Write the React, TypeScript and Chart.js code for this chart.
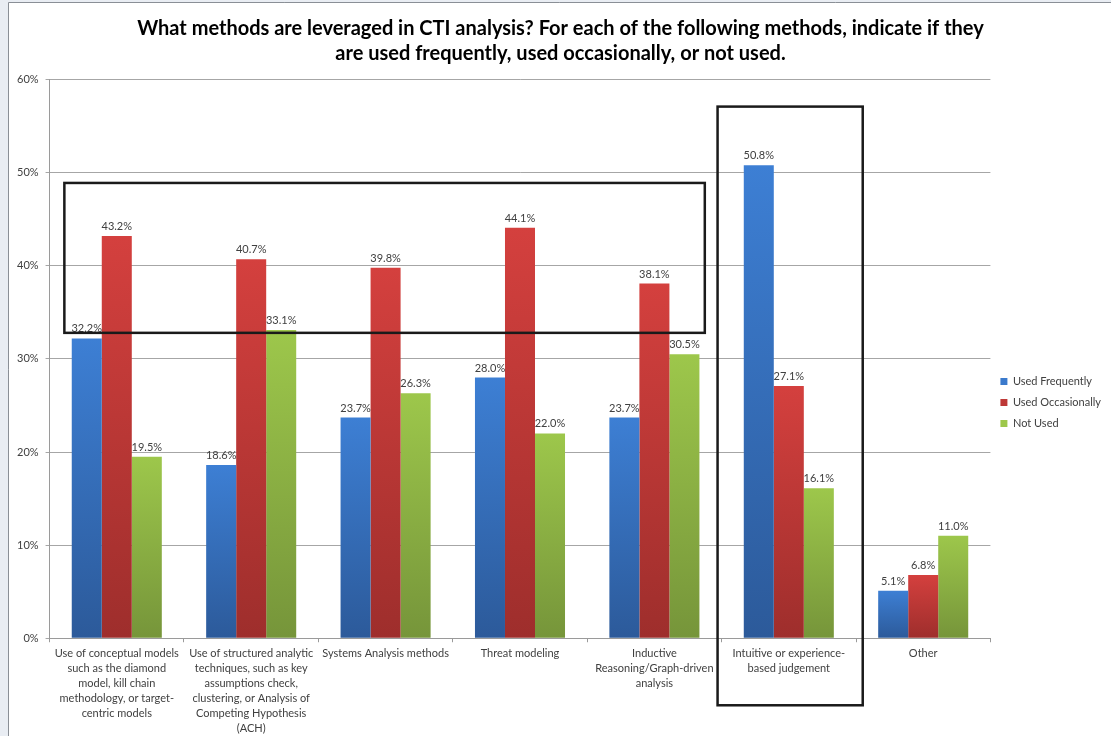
import React, { useEffect, useRef } from "react";
import { Chart, registerables } from "chart.js";

Chart.register(...registerables);

const categories: (string | string[])[] = [
  ["Use of conceptual models", "such as the diamond", "model, kill chain", "methodology, or target-", "centric models"],
  ["Use of structured analytic", "techniques, such as key", "assumptions check,", "clustering, or Analysis of", "Competing Hypothesis", "(ACH)"],
  "Systems Analysis methods",
  "Threat modeling",
  ["Inductive", "Reasoning/Graph-driven", "analysis"],
  ["Intuitive or experience-", "based judgement"],
  "Other",
];

const usedFrequently = [32.2, 18.6, 23.7, 28.0, 23.7, 50.8, 5.1];
const usedOccasionally = [43.2, 40.7, 39.8, 44.1, 38.1, 27.1, 6.8];
const notUsed = [19.5, 33.1, 26.3, 22.0, 30.5, 16.1, 11.0];

const seriesNames = ["Used Frequently", "Used Occasionally", "Not Used"];
const titleLines = [
  "What methods are leveraged in CTI analysis? For each of the following methods, indicate if they",
  "are used frequently, used occasionally, or not used.",
];

const FONT = "Lato, 'Open Sans', sans-serif";

function gradientFill(top: string, bottom: string, solid: string) {
  return (ctx: any) => {
    const chart = ctx.chart;
    const y = chart.scales && chart.scales.y;
    if (!chart.chartArea || !y || ctx.type !== "data") return solid;
    const v = ctx.raw as number;
    const y0 = y.getPixelForValue(v);
    const y1 = y.getPixelForValue(0);
    if (!isFinite(y0) || !isFinite(y1) || y0 === y1) return solid;
    const g = chart.ctx.createLinearGradient(0, y0, 0, y1);
    g.addColorStop(0, top);
    g.addColorStop(1, bottom);
    return g;
  };
}

const framePlugin = {
  id: "frame",
  beforeDraw(chart: any) {
    const { ctx, width, height } = chart;
    ctx.save();
    ctx.fillStyle = "#e9edf3";
    ctx.fillRect(0, 0, width, height);
    ctx.fillStyle = "#ffffff";
    ctx.fillRect(9, 3, width - 9, height - 3);
    ctx.strokeStyle = "#8a8f96";
    ctx.lineWidth = 1;
    ctx.beginPath();
    ctx.moveTo(8.5, height);
    ctx.lineTo(8.5, 2.5);
    ctx.lineTo(width, 2.5);
    ctx.stroke();
    ctx.restore();
  },
};

const labelPlugin = {
  id: "valueLabels",
  afterDatasetsDraw(chart: any) {
    const { ctx } = chart;
    ctx.save();
    ctx.font = `11px ${FONT}`;
    ctx.fillStyle = "#404040";
    ctx.textAlign = "center";
    ctx.textBaseline = "bottom";
    chart.data.datasets.forEach((ds: any, di: number) => {
      const meta = chart.getDatasetMeta(di);
      meta.data.forEach((bar: any, i: number) => {
        ctx.fillText(ds.data[i].toFixed(1) + "%", bar.x, bar.y - 4);
      });
    });
    ctx.restore();
  },
};

const boxPlugin = {
  id: "highlightBoxes",
  afterDraw(chart: any) {
    const { ctx } = chart;
    const x = chart.scales.x;
    const y = chart.scales.y;
    const cw = x.getPixelForValue(1) - x.getPixelForValue(0);
    ctx.save();
    ctx.strokeStyle = "#1a1a1a";
    ctx.lineWidth = 2.5;
    const r1x0 = x.getPixelForValue(0) - 0.39 * cw;
    const r1x1 = x.getPixelForValue(4) + 0.375 * cw;
    const r1y0 = y.getPixelForValue(48.9);
    const r1y1 = y.getPixelForValue(32.8);
    ctx.strokeRect(r1x0, r1y0, r1x1 - r1x0, r1y1 - r1y0);
    const r2x0 = x.getPixelForValue(5) - 0.53 * cw;
    const r2x1 = x.getPixelForValue(5) + 0.55 * cw;
    const r2y0 = y.getPixelForValue(57.1);
    const r2y1 = y.getPixelForValue(-7.2);
    ctx.strokeRect(r2x0, r2y0, r2x1 - r2x0, r2y1 - r2y0);
    ctx.restore();
  },
};

export default function App() {
  const ref = useRef<HTMLCanvasElement | null>(null);
  useEffect(() => {
    if (!ref.current) return;
    const chart = new Chart(ref.current, {
      type: "bar",
      data: {
        labels: categories,
        datasets: [
          {
            label: seriesNames[0],
            data: usedFrequently,
            backgroundColor: gradientFill("#3d7fd4", "#2c5a9a", "#3470bd"),
          },
          {
            label: seriesNames[1],
            data: usedOccasionally,
            backgroundColor: gradientFill("#d4403e", "#9e2e2c", "#c03a38"),
          },
          {
            label: seriesNames[2],
            data: notUsed,
            backgroundColor: gradientFill("#9dc74b", "#76953a", "#8bb044"),
          },
        ] as any,
      },
      options: {
        animation: false,
        responsive: true,
        maintainAspectRatio: false,
        layout: { padding: { left: 10, right: 0, top: 10, bottom: -4 } },
        datasets: {
          bar: { categoryPercentage: 0.67, barPercentage: 1.0, borderWidth: 0 },
        } as any,
        plugins: {
          title: {
            display: true,
            text: titleLines,
            color: "#000000",
            font: { family: FONT, size: 20, weight: "bold", lineHeight: 1.24 },
            padding: { top: 6, bottom: 14 },
          },
          legend: {
            position: "right",
            align: "start",
            title: {
              display: true,
              text: " ",
              font: { family: FONT, size: 10, lineHeight: 1.2 },
              padding: { top: 344, bottom: 0 },
            },
            labels: {
              boxWidth: 7,
              boxHeight: 7,
              padding: 10,
              color: "#404040",
              font: { family: FONT, size: 11 },
            },
          },
          tooltip: { enabled: false },
        },
        scales: {
          x: {
            grid: {
              offset: true,
              drawOnChartArea: false,
              drawTicks: true,
              tickLength: 4,
              color: "#9a9a9a",
            },
            border: { color: "#9a9a9a" },
            ticks: {
              autoSkip: false,
              maxRotation: 0,
              minRotation: 0,
              padding: 4,
              color: "#404040",
              font: { family: FONT, size: 11, lineHeight: 1.36 },
            },
          },
          y: {
            min: 0,
            max: 60,
            grid: { color: "#a6a6a6", tickLength: 4 },
            border: { color: "#9a9a9a" },
            ticks: {
              stepSize: 10,
              padding: 7,
              color: "#404040",
              font: { family: FONT, size: 11 },
              callback: (v: any) => v + "%",
            },
          },
        },
      },
      plugins: [framePlugin, labelPlugin, boxPlugin],
    });
    return () => chart.destroy();
  }, []);
  return (
    <div style={{ position: "absolute", left: 0, top: 0, width: 1111, height: 736 }}>
      <canvas ref={ref} />
    </div>
  );
}
